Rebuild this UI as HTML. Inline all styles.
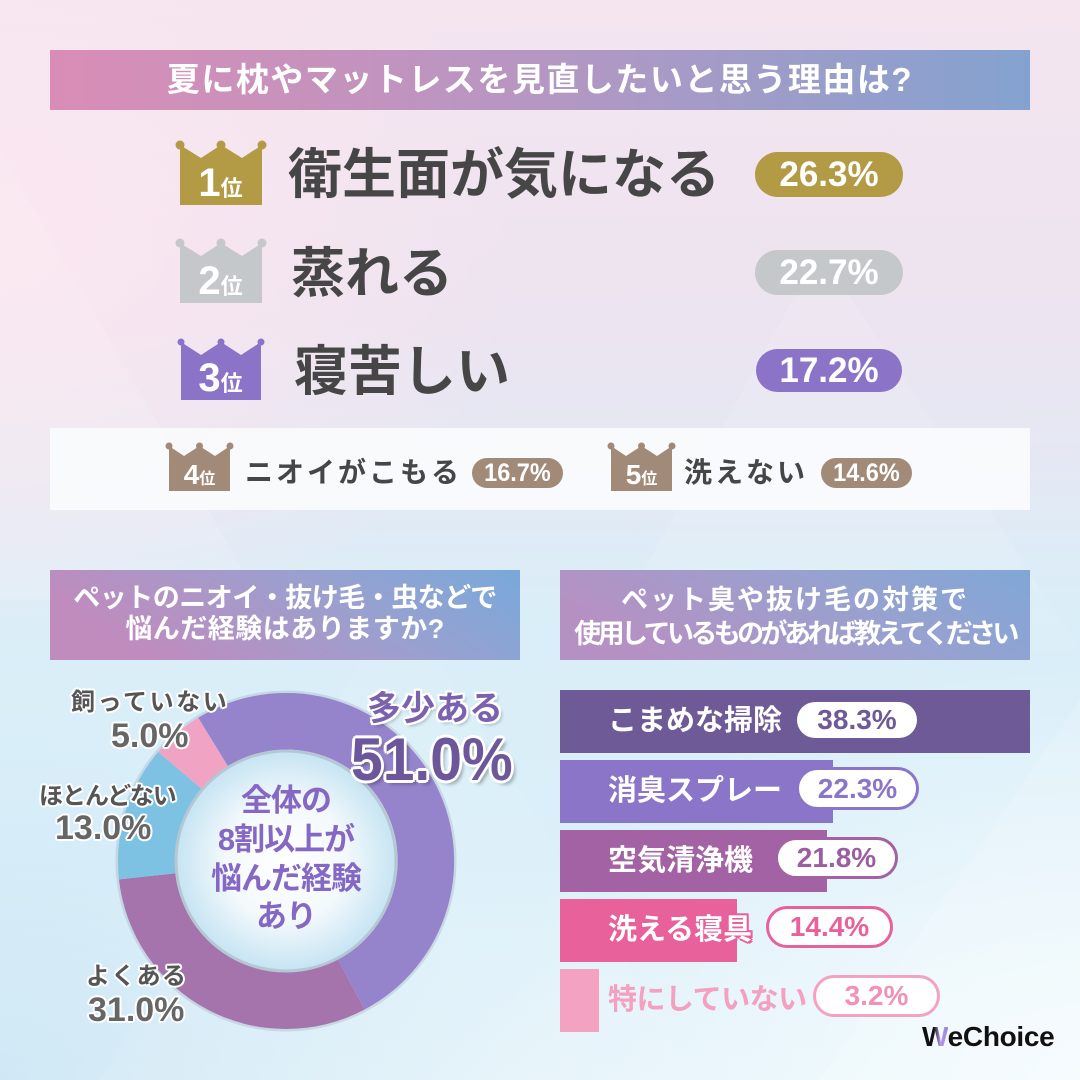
<!DOCTYPE html>
<html><head><meta charset="utf-8">
<style>
*{margin:0;padding:0;box-sizing:border-box}
html,body{width:1080px;height:1080px;overflow:hidden}
body{position:relative;font-family:"Liberation Sans","Noto Sans CJK JP",sans-serif;font-weight:bold;
background:linear-gradient(180deg,#f4e5ef 0%,#ece4f0 30%,#e3e9f4 45%,#d9eef8 58%,#dbeff9 80%,#e4f3fa 100%);}
.a{position:absolute;white-space:nowrap}
.bg{position:absolute;left:0;top:0;width:1080px;height:1080px}
.pill{position:absolute;border-radius:999px;text-align:center;color:#fff;white-space:nowrap}
.sx{display:inline-block}
.rank{color:#464646;font-size:54px;height:60px;line-height:60px}
.cr{position:absolute;text-align:center;color:#fff;white-space:nowrap}
.bl{position:absolute;left:608px;color:#fff;font-size:29px;white-space:nowrap}
.bp{position:absolute;background:#fff;border-radius:999px;text-align:center;font-size:28px;white-space:nowrap}
.wo{text-shadow:2px 0 0 #fff,-2px 0 0 #fff,0 2px 0 #fff,0 -2px 0 #fff,1.5px 1.5px 0 #fff,-1.5px 1.5px 0 #fff,1.5px -1.5px 0 #fff,-1.5px -1.5px 0 #fff}
</style></head><body>

<div class="bg" style="background:radial-gradient(ellipse 520px 420px at 0% 22%,rgba(252,230,240,0.95),rgba(252,230,240,0) 100%)"></div>
<div class="bg" style="background:radial-gradient(ellipse 600px 420px at 100% 100%,rgba(246,252,254,0.95),rgba(246,252,254,0) 100%)"></div>
<div class="bg" style="background:radial-gradient(ellipse 500px 380px at 0% 100%,rgba(200,228,244,0.7),rgba(200,228,244,0) 100%)"></div>

<svg class="bg" width="1080" height="1080" viewBox="0 0 1080 1080" xmlns="http://www.w3.org/2000/svg">
  <defs>
    <linearGradient id="h1" x1="0" x2="1" y1="0" y2="0">
      <stop offset="0" stop-color="#d98db6"/><stop offset="0.5" stop-color="#b597c2"/><stop offset="1" stop-color="#84a2d0"/>
    </linearGradient>
    <linearGradient id="h2" x1="0" x2="1" y1="0.3" y2="0">
      <stop offset="0" stop-color="#c08bbd"/><stop offset="0.55" stop-color="#9aa0cf"/><stop offset="1" stop-color="#78a9da"/>
    </linearGradient>
    <linearGradient id="h3" x1="0" x2="1" y1="0.3" y2="0">
      <stop offset="0" stop-color="#b591c3"/><stop offset="0.55" stop-color="#98a1cf"/><stop offset="1" stop-color="#80a7d8"/>
    </linearGradient>
    <radialGradient id="ig" cx="0.5" cy="0.5" r="0.5">
      <stop offset="0" stop-color="#ffffff"/><stop offset="0.55" stop-color="#f3f9fc"/><stop offset="1" stop-color="#c6e4f3"/>
    </radialGradient>
  </defs>
  <polygon points="0,150 260,600 0,600" fill="#ffffff" opacity="0.12"/>
  <polygon points="820,250 1080,650 600,650" fill="#ffffff" opacity="0.10"/>
  <polygon points="400,600 700,1080 100,1080" fill="#ffffff" opacity="0.08"/>
  <polygon points="1080,700 1080,1080 820,1080" fill="#ffffff" opacity="0.15"/>

  <rect x="50" y="50" width="980" height="60" fill="url(#h1)"/>
  <rect x="50" y="570" width="470" height="90" fill="url(#h2)"/>
  <rect x="560" y="570" width="470" height="90" fill="url(#h3)"/>

  <rect x="50" y="428" width="980" height="82" fill="#fafbfd" opacity="0.92"/>

  <g fill="#b39a45">
    <polygon points="180,145 201,158 221,145 242,158 262,145 262,205 180,205"/>
    <circle cx="180" cy="145" r="4.5"/><circle cx="221" cy="145" r="4.5"/><circle cx="262" cy="145" r="4.5"/>
  </g>
  <g fill="#c5c8cb">
    <polygon points="180,243 201,256 221,243 242,256 262,243 262,303 180,303"/>
    <circle cx="180" cy="243" r="4.5"/><circle cx="221" cy="243" r="4.5"/><circle cx="262" cy="243" r="4.5"/>
  </g>
  <g fill="#8b74c7">
    <polygon points="181,342 201,355 221,342 241,355 261,342 261,400 181,400"/>
    <circle cx="181" cy="342" r="3.5"/><circle cx="221" cy="342" r="3.5"/><circle cx="261" cy="342" r="3.5"/>
  </g>
  <g fill="#a28a78">
    <polygon points="169,446 184,456 199.5,446 215,456 230,446 230,491 169,491"/>
    <circle cx="169" cy="446" r="3.5"/><circle cx="199.5" cy="446" r="3.5"/><circle cx="230" cy="446" r="3.5"/>
    <polygon points="611,446 626,456 641.5,446 657,456 672,446 672,491 611,491"/>
    <circle cx="611" cy="446" r="3.5"/><circle cx="641.5" cy="446" r="3.5"/><circle cx="672" cy="446" r="3.5"/>
  </g>

  <circle cx="286" cy="861" r="169" fill="none" stroke="#8a94a8" stroke-opacity="0.25" stroke-width="3"/>
  <path d="M198.2,717.8 A168,168 0 1 1 364.6,1009.5 L337.9,959.1 A111,111 0 1 0 228.0,766.4 Z" fill="#9583cb"/>
  <path d="M364.6,1009.5 A168,168 0 0 1 119.0,879.4 L175.7,873.2 A111,111 0 0 0 337.9,959.1 Z" fill="#a574ad"/>
  <path d="M119.0,879.4 A168,168 0 0 1 158.3,751.9 L201.6,788.9 A111,111 0 0 0 175.7,873.2 Z" fill="#7ec2e3"/>
  <path d="M158.3,751.9 A168,168 0 0 1 198.2,717.8 L228.0,766.4 A111,111 0 0 0 201.6,788.9 Z" fill="#f1a3c3"/>
  <circle cx="286" cy="861" r="110" fill="url(#ig)" stroke="#b5c7d2" stroke-width="3"/>

  <rect x="560" y="690" width="470" height="63" fill="#6e5a96"/>
  <rect x="560" y="760" width="273" height="63" fill="#8b75c8"/>
  <rect x="560" y="830" width="267" height="62" fill="#a262a3"/>
  <rect x="560" y="899" width="177" height="63" fill="#e8619b"/>
  <rect x="560" y="969" width="39" height="63" fill="#f4a2c2"/>
</svg>

<div class="a" style="left:50px;top:50px;width:980px;height:60px;line-height:60px;text-align:center;color:#fff;font-size:33px;letter-spacing:1.5px">夏に枕やマットレスを見直したいと思う理由は?</div>

<div class="cr" style="left:178px;top:163px;width:85px;font-size:40px;line-height:40px">1<span style="font-size:22px;line-height:22px">位</span></div>
<div class="cr" style="left:178px;top:261px;width:85px;font-size:40px;line-height:40px">2<span style="font-size:22px;line-height:22px">位</span></div>
<div class="cr" style="left:178px;top:358px;width:85px;font-size:40px;line-height:40px">3<span style="font-size:22px;line-height:22px">位</span></div>
<div class="cr" style="left:168px;top:461px;width:63px;font-size:28px;line-height:28px">4<span style="font-size:16px;line-height:16px">位</span></div>
<div class="cr" style="left:610px;top:461px;width:63px;font-size:28px;line-height:28px">5<span style="font-size:16px;line-height:16px">位</span></div>

<div class="a rank" style="left:288px;top:145px">衛生面が気になる</div>
<div class="a rank" style="left:291px;top:244px">蒸れる</div>
<div class="a rank" style="left:294px;top:342px">寝苦しい</div>

<div class="pill" style="left:755px;top:152px;width:148px;height:45px;line-height:45px;background:#b39a45;font-size:35px"><span class="sx">26.3%</span></div>
<div class="pill" style="left:755px;top:250px;width:148px;height:45px;line-height:45px;background:#c5c8cb;font-size:35px"><span class="sx">22.7%</span></div>
<div class="pill" style="left:756px;top:349px;width:146px;height:43px;line-height:43px;background:#8b74c7;font-size:35px"><span class="sx">17.2%</span></div>

<div class="a" style="left:245px;top:443px;height:60px;line-height:60px;font-size:28px;letter-spacing:3px;color:#464646">ニオイがこもる</div>
<div class="pill" style="left:472px;top:458px;width:91px;height:30px;line-height:30px;background:#a28a78;font-size:25px"><span class="sx" style="transform:scaleX(0.94)">16.7%</span></div>
<div class="a" style="left:684px;top:443px;height:60px;line-height:60px;font-size:28px;letter-spacing:3px;color:#464646">洗えない</div>
<div class="pill" style="left:821px;top:458px;width:91px;height:30px;line-height:30px;background:#a28a78;font-size:25px"><span class="sx" style="transform:scaleX(0.94)">14.6%</span></div>

<div class="a" style="left:50px;top:582px;width:470px;height:32px;line-height:32px;text-align:center;color:#fff;font-size:27px;letter-spacing:-0.5px">ペットのニオイ・抜け毛・虫などで</div>
<div class="a" style="left:50px;top:613px;width:470px;height:32px;line-height:32px;text-align:center;color:#fff;font-size:27px;letter-spacing:0.5px">悩んだ経験はありますか?</div>
<div class="a" style="left:560px;top:584px;width:470px;height:32px;line-height:32px;text-align:center;color:#fff;font-size:27px;letter-spacing:2px">ペット臭や抜け毛の対策で</div>
<div class="a" style="left:560px;top:618px;width:470px;height:32px;line-height:32px;text-align:center;color:#fff;font-size:27px;letter-spacing:-3.6px">使用しているものがあれば教えてください</div>

<div class="a" style="left:176px;top:782px;width:220px;height:38px;line-height:38px;text-align:center;color:#8567c4;font-size:31px;letter-spacing:-1px">全体の</div>
<div class="a" style="left:176px;top:821px;width:220px;height:38px;line-height:38px;text-align:center;color:#8567c4;font-size:31px;letter-spacing:-1px">8割以上が</div>
<div class="a" style="left:176px;top:860px;width:220px;height:38px;line-height:38px;text-align:center;color:#8567c4;font-size:31px;letter-spacing:-1px">悩んだ経験</div>
<div class="a" style="left:176px;top:898px;width:220px;height:38px;line-height:38px;text-align:center;color:#8567c4;font-size:31px;letter-spacing:-1px">あり</div>

<div class="a wo" style="left:71px;top:688px;height:30px;line-height:30px;font-size:24px;letter-spacing:2.6px;color:#555">飼っていない</div>
<div class="a wo" style="left:111px;top:719px;height:34px;line-height:34px;font-size:34px;color:#666">5.0%</div>
<div class="a wo" style="left:39px;top:782px;height:30px;line-height:30px;font-size:24px;letter-spacing:-1px;color:#555">ほとんどない</div>
<div class="a wo" style="left:55px;top:811px;height:34px;line-height:34px;font-size:34px;color:#666">13.0%</div>
<div class="a wo" style="left:86px;top:962px;height:30px;line-height:30px;font-size:24px;letter-spacing:1.3px;color:#555">よくある</div>
<div class="a wo" style="left:88px;top:993px;height:34px;line-height:34px;font-size:34px;color:#666">31.0%</div>
<div class="a" style="left:367px;top:691px;height:36px;line-height:36px;font-size:34px;color:#7a62ae;text-shadow:2px 0 0 #fff,-2px 0 0 #fff,0 2px 0 #fff,0 -2px 0 #fff,2px 2px 0 #fff,-2px 2px 0 #fff,2px -2px 0 #fff,-2px -2px 0 #fff,3px 3px 3px rgba(0,0,0,0.25)">多少ある</div>
<div class="a" style="left:351px;top:730px;height:60px;line-height:60px;font-size:60px;color:#6b5799;transform:scaleX(0.95);transform-origin:left center;text-shadow:3px 0 0 #fff,-3px 0 0 #fff,0 3px 0 #fff,0 -3px 0 #fff,2px 2px 0 #fff,-2px 2px 0 #fff,2px -2px 0 #fff,-2px -2px 0 #fff,4px 4px 4px rgba(0,0,0,0.3)">51.0%</div>

<div class="bl" style="top:690px;height:63px;line-height:63px">こまめな掃除</div>
<div class="bl" style="top:760px;height:63px;line-height:63px">消臭スプレー</div>
<div class="bl" style="top:830px;height:62px;line-height:62px">空気清浄機</div>
<div class="bl" style="top:899px;height:63px;line-height:63px;text-shadow:2px 0 0 #e8619b,-2px 0 0 #e8619b,0 2px 0 #e8619b,0 -2px 0 #e8619b,2px 2px 0 #e8619b,2px -2px 0 #e8619b">洗える寝具</div>
<div class="bl" style="top:969px;height:63px;line-height:63px;color:#f4a0c0;letter-spacing:-0.5px">特にしていない</div>

<div class="bp" style="left:797px;top:702px;width:120px;height:36px;line-height:36px;color:#6e5a96"><span class="sx">38.3%</span></div>
<div class="bp" style="left:796px;top:767px;width:123px;height:43px;line-height:37px;border:3px solid #8b75c8;color:#8b75c8"><span class="sx">22.3%</span></div>
<div class="bp" style="left:775px;top:837px;width:123px;height:42px;line-height:36px;border:3px solid #a262a3;color:#9a5fa0"><span class="sx">21.8%</span></div>
<div class="bp" style="left:766px;top:906px;width:127px;height:42px;line-height:36px;border:3px solid #e8619b;color:#e8619b"><span class="sx">14.4%</span></div>
<div class="bp" style="left:813px;top:975px;width:127px;height:42px;line-height:36px;border:3px solid #f4a2c2;color:#f291b8"><span class="sx">3.2%</span></div>

<div class="a" style="left:922px;top:1021px;height:32px;line-height:32px;font-size:28px;letter-spacing:-0.3px;color:#111"><span style="background:linear-gradient(90deg,#111 0%,#111 45%,#b49ae6 70%,#9a86dc 100%);-webkit-background-clip:text;background-clip:text;color:transparent">W</span>eChoice</div>

</body></html>
